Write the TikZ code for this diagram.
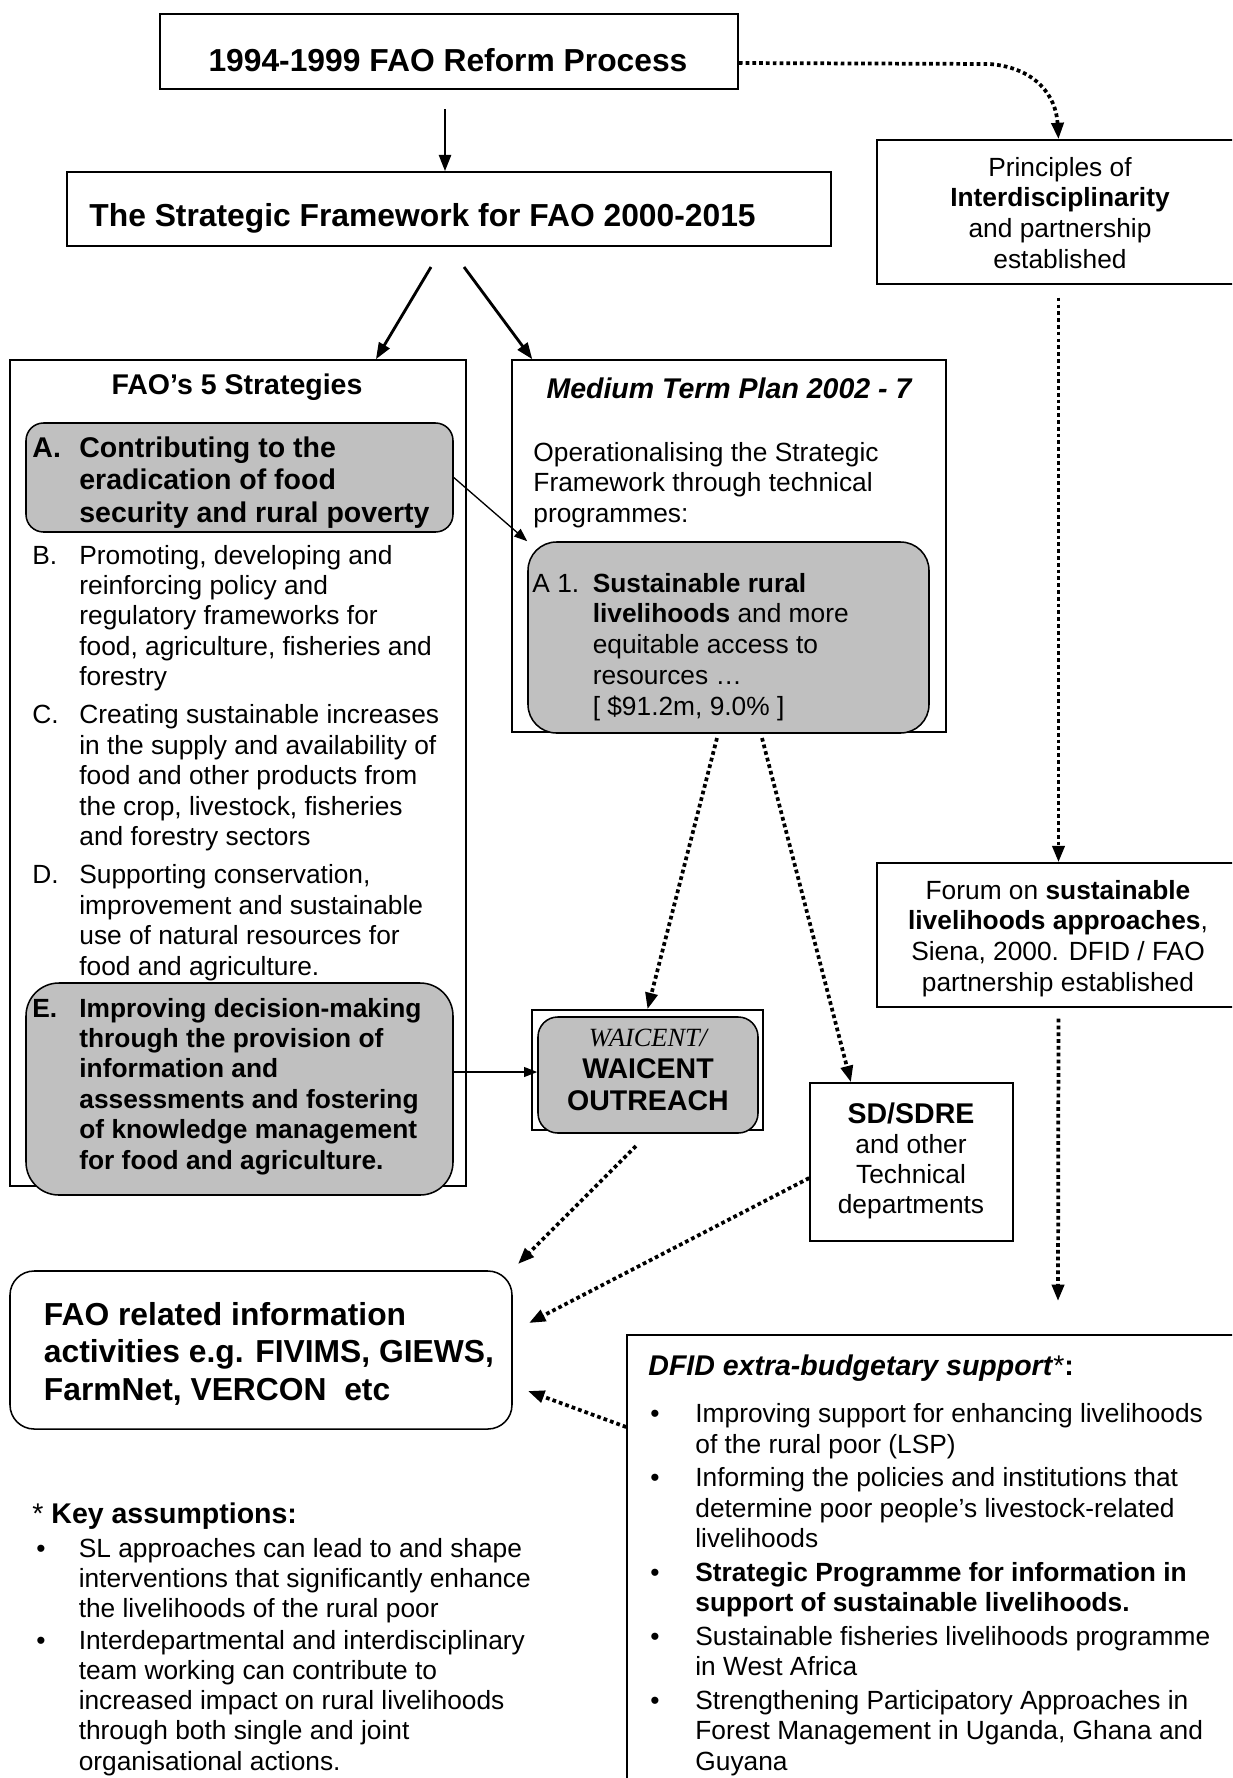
\documentclass[tikz,border=0pt]{standalone}
\usepackage{fontspec}
\setmainfont{Liberation Sans}
\newfontfamily\timesfont{Liberation Serif}
\usetikzlibrary{arrows.meta}
\usetikzlibrary{fit}
\definecolor{boxgrey}{RGB}{192,192,192}
\newcommand{\ftreg}{\fontsize{12}{13.9}\selectfont}
\newcommand{\ftmid}{\fontsize{13}{15}\selectfont\bfseries}
\newcommand{\ftbig}{\fontsize{14.5}{17.1}\selectfont\bfseries}

\begin{document}
\begin{tikzpicture}[x=0.456pt,y=-0.456pt,
box/.style={draw,line width=0.7pt,inner sep=0pt},
greybox/.style={draw,line width=0.7pt,fill=boxgrey,inner sep=0pt},
txt/.style={inner sep=0pt,anchor=base west},
solidarr/.style={-{Triangle[length=7.5pt,width=5.5pt]},line width=1.2pt},
thinarr/.style={-{Triangle[length=6pt,width=4.5pt]},line width=0.6pt},
dotarr/.style={-{Triangle[length=7.5pt,width=5.5pt]},line width=1.7pt,dash pattern=on 1.7pt off 1.4pt}]
\useasboundingbox (0,0) rectangle (1232,1778);
\clip (0,0) rectangle (1232,1778);

\node [box, fit={(160,14) (738,89)}] (reform) {};
\node [inner sep=0pt, font=\ftbig] (reformtxt) at (448,60) {1994-1999 FAO Reform Process};

\node [box, fit={(67,172) (831,246)}] (frame) {};
\node [txt, anchor=west, font=\ftbig] (frametxt) at (89,218) {The Strategic Framework for FAO 2000-2015};

\node [box, fit={(877,140) (1240,284)}] (principles) {};
\node [inner sep=0pt, anchor=base, font=\fontsize{12}{14.1}\selectfont] (princtxt) at (1060,176) {\begin{tabular}[t]{@{}c@{}}Principles of\\ \textbf{Interdisciplinarity}\\ and partnership\\ established\end{tabular}};

\node [box, fit={(10,360) (466,1186)}] (strat) {};
\node [inner sep=0pt, font=\ftmid] (strattitle) at (237,387) {FAO’s 5 Strategies};
\node [greybox, rounded corners=8pt, fit={(26,423) (453,532)}] (boxA) {};
\node [txt, font=\ftmid] (stratA) at (32,457) {\begin{tabular}[t]{@{}p{21.4pt}@{}l@{}}
A. & Contributing to the\\
 & eradication of food\\
 & security and rural poverty
\end{tabular}};
\node [txt, font=\ftreg] (stratBD) at (32,564) {\begin{tabular}[t]{@{}p{21.4pt}@{}l@{}}
B. & Promoting, developing and\\
 & reinforcing policy and\\
 & regulatory frameworks for\\
 & food, agriculture, fisheries and\\
 & forestry\\[3.4pt]
C. & Creating sustainable increases\\
 & in the supply and availability of\\
 & food and other products from\\
 & the crop, livestock, fisheries\\
 & and forestry sectors\\[3.4pt]
D. & Supporting conservation,\\
 & improvement and sustainable\\
 & use of natural resources for\\
 & food and agriculture.
\end{tabular}};
\node [greybox, rounded corners=15pt, fit={(26,983) (453,1195)}] (boxE) {};
\node [txt, font=\ftreg\bfseries] (stratE) at (32,1017) {\begin{tabular}[t]{@{}p{21.4pt}@{}l@{}}
E. & Improving decision-making\\
 & through the provision of\\
 & information and\\
 & assessments and fostering\\
 & of knowledge management\\
 & for food and agriculture.
\end{tabular}};

\node [box, fit={(512,360) (946,732)}] (med) {};
\node [inner sep=0pt, font=\ftmid\itshape] (medtitle) at (729,388) {Medium Term Plan 2002 - 7};
\node [txt, font=\fontsize{12}{14}\selectfont] (medtxt) at (533,461) {\begin{tabular}[t]{@{}l@{}}Operationalising the Strategic\\ Framework through technical\\ programmes:\end{tabular}};
\node [greybox, rounded corners=13pt, fit={(528,542) (929,733)}] (boxA1) {};
\node [txt, font=\fontsize{12}{14.1}\selectfont] (a1txt) at (532,592) {\begin{tabular}[t]{@{}p{27.5pt}@{}l@{}}
A 1. & \textbf{Sustainable rural}\\
 & \textbf{livelihoods} and more\\
 & equitable access to\\
 & resources …\\
 & [ \$91.2m, 9.0\% ]
\end{tabular}};

\node [box, fit={(532,1010) (763,1130)}] (waic) {};
\node [greybox, rounded corners=9pt, fit={(538,1017) (758,1133)}] (waicin) {};
\node [inner sep=0pt, anchor=base, font=\fontsize{13}{14.6}\selectfont\bfseries] (waictxt) at (648,1046) {\begin{tabular}[t]{@{}c@{}}{\timesfont\mdseries\itshape\fontsize{12}{14}\selectfont WAICENT/}\\ WAICENT\\ OUTREACH\end{tabular}};

\node [box, fit={(810,1083) (1013,1241)}] (sd) {};
\node [inner sep=0pt, anchor=base, font=\fontsize{12}{13.7}\selectfont] (sdtxt) at (911,1123) {\begin{tabular}[t]{@{}c@{}}{\ftmid SD/SDRE}\\ and other\\ Technical\\ departments\end{tabular}};

\node [box, fit={(877,863) (1240,1007)}] (forum) {};
\node [inner sep=0pt, anchor=base, font=\fontsize{12}{14}\selectfont] (forumtxt) at (1058,899) {\begin{tabular}[t]{@{}c@{}}Forum on \textbf{sustainable}\\ \textbf{livelihoods approaches},\\ Siena, 2000. DFID / FAO\\ partnership established\end{tabular}};

\node [box, rounded corners=11pt, fit={(10,1271) (512,1429)}] (info) {};
\node [txt, font=\ftbig] (infotxt) at (43.5,1325) {\begin{tabular}[t]{@{}l@{}}FAO related information\\ activities e.g. FIVIMS, GIEWS,\\ FarmNet, VERCON\ \ etc\end{tabular}};

\node [box, fit={(627,1335) (1250,1795)}] (dfid) {};
\node [txt, font=\fontsize{13}{15}\selectfont] (dfidhead) at (648,1375) {\textbf{\textit{DFID extra-budgetary support}}*\textbf{:}};
\node [txt, font=\fontsize{12}{13.9}\selectfont] (dfidlist) at (650,1422.5) {\begin{tabular}[t]{@{}p{20.5pt}@{}l@{}}
• & Improving support for enhancing livelihoods\\
 & of the rural poor (LSP)\\[1.4pt]
• & Informing the policies and institutions that\\
 & determine poor people’s livestock-related\\
 & livelihoods\\[1.4pt]
• & \textbf{Strategic Programme for information in}\\
 & \textbf{support of sustainable livelihoods.}\\[1.4pt]
• & Sustainable fisheries livelihoods programme\\
 & in West Africa\\[1.4pt]
• & Strengthening Participatory Approaches in\\
 & Forest Management in Uganda, Ghana and\\
 & Guyana
\end{tabular}};

\node [txt, font=\fontsize{13}{15}\selectfont] (keyhead) at (32,1523) {* \textbf{Key assumptions:}};
\node [txt, font=\fontsize{12}{13.8}\selectfont] (keylist) at (36,1557) {\begin{tabular}[t]{@{}p{19.3pt}@{}l@{}}
• & SL approaches can lead to and shape\\
 & interventions that significantly enhance\\
 & the livelihoods of the rural poor\\[0.6pt]
• & Interdepartmental and interdisciplinary\\
 & team working can contribute to\\
 & increased impact on rural livelihoods\\
 & through both single and joint\\
 & organisational actions.
\end{tabular}};

\coordinate (rfstart) at (445,109);
\draw [solidarr] (rfstart)--(rfstart |- frame.north);
\coordinate (fs1) at (431,267);
\coordinate (fs2) at (464,267);
\draw [solidarr, line width=1.3pt] (fs1)--([xshift=62.9pt]strat.north);
\draw [solidarr, line width=1.3pt] (fs2)--([xshift=9.6pt]med.north west);

\draw [dotarr] (reform.east |- 0,63)--(990,64) .. controls (1036,68) and (1056,96) .. (principles.north);
\draw [dotarr] ([yshift=-5.9pt]principles.south)--(forum.north);
\coordinate (dfidtip) at (1058,1301);
\draw [dotarr] ([yshift=-5pt]forum.south)--(dfidtip);

\draw [thinarr] (boxA.east)--(boxA1.north west);
\coordinate (eout) at (boxE.east |- 0,1072);
\draw [thinarr] (eout)--(eout -| waicin.west);

\coordinate (mt1) at (717,738);
\coordinate (mt2) at (762,738);
\draw [dotarr] (mt1)--(waic.north);
\draw [dotarr] (mt2)--([xshift=19pt]sd.north west);

\coordinate (wdot) at (636,1146);
\coordinate (itip1) at (518,1264);
\draw [dotarr] (wdot)--(itip1);
\coordinate (itip2) at (529,1323);
\draw [dotarr] ([yshift=-7.3pt]sd.west)--(itip2);
\coordinate (dfout) at (dfid.west |- 0,1427);
\coordinate (itip3) at (528,1391);
\draw [dotarr] (dfout)--(itip3);

\end{tikzpicture}
\end{document}
